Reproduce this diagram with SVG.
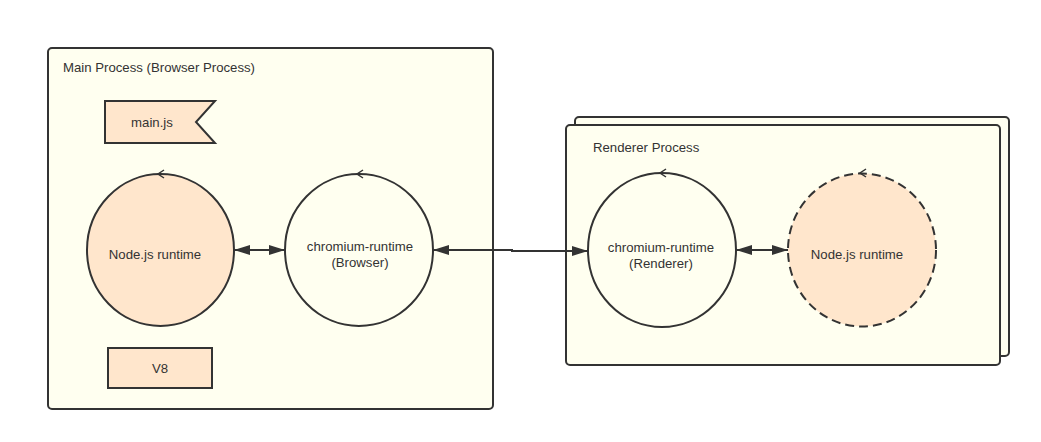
<svg xmlns="http://www.w3.org/2000/svg" width="1041" height="442" viewBox="0 0 1041 442">
<style>
.box{fill:#fffff0;stroke:#333;stroke-width:2}
.peach{fill:#ffe6cc;stroke:#333;stroke-width:2}
.ring{fill:#fffff0;stroke:#333;stroke-width:2}
.dash{stroke-dasharray:9 5}
.t{font-family:"Liberation Sans",Arial,sans-serif;font-size:13.2px;fill:#333}
.c{text-anchor:middle}
.conn{stroke:#333;stroke-width:2;fill:none}
.chev{stroke:#333;stroke-width:1.5;fill:none}
</style>
<defs>
<marker id="ah" viewBox="0 0 16 10" refX="16" refY="5" markerWidth="16" markerHeight="10" markerUnits="userSpaceOnUse" orient="auto-start-reverse">
<path d="M0,0 L16,5 L0,10 Z" fill="#333"/>
</marker>
</defs>
<rect width="1041" height="442" fill="#fff"/>
<g id="main-process">
<rect class="box" x="48" y="48" width="445" height="361" rx="4"/>
<text class="t" x="63" y="72">Main Process (Browser Process)</text>
</g>
<g id="renderer-process">
<rect class="box" x="575" y="117" width="434" height="239" rx="4"/>
<rect class="box" x="566" y="125" width="434" height="240" rx="4"/>
<text class="t" x="593" y="152">Renderer Process</text>
</g>
<g id="main-js">
<path class="peach" d="M105,101 H215 L196,122 L215,143 H105 Z"/>
<text class="t c" x="152" y="127">main.js</text>
</g>
<g id="node-runtime-main">
<ellipse class="peach" cx="160.5" cy="250" rx="73.5" ry="76"/>
<path class="chev" d="M164,170 L158,174 L164,178"/>
<text class="t c" x="155" y="259">Node.js runtime</text>
</g>
<g id="chromium-browser">
<ellipse class="ring" cx="359" cy="250" rx="74" ry="76"/>
<path class="chev" d="M363,170 L357,174 L363,178"/>
<text class="t c" x="360" y="251">chromium-runtime</text>
<text class="t c" x="360" y="267">(Browser)</text>
</g>
<g id="v8">
<rect class="peach" x="108" y="348" width="104" height="40"/>
<text class="t c" x="160" y="373">V8</text>
</g>
<g id="chromium-renderer">
<ellipse class="ring" cx="662" cy="250" rx="74" ry="77"/>
<path class="chev" d="M666,169 L660,173 L666,177"/>
<text class="t c" x="661" y="252">chromium-runtime</text>
<text class="t c" x="661" y="268">(Renderer)</text>
</g>
<g id="node-runtime-renderer">
<ellipse class="peach dash" cx="862" cy="250" rx="74" ry="76.5"/>
<path class="chev" d="M866,169 L860,173 L866,177"/>
<text class="t c" x="857" y="259">Node.js runtime</text>
</g>
<g id="connectors">
<line class="conn" x1="234" y1="250" x2="285" y2="250" marker-start="url(#ah)" marker-end="url(#ah)"/>
<path class="conn" d="M433,250 H512 V251 H588" marker-start="url(#ah)" marker-end="url(#ah)"/>
<line class="conn" x1="736" y1="250" x2="788" y2="250" marker-start="url(#ah)" marker-end="url(#ah)"/>
</g>
</svg>
